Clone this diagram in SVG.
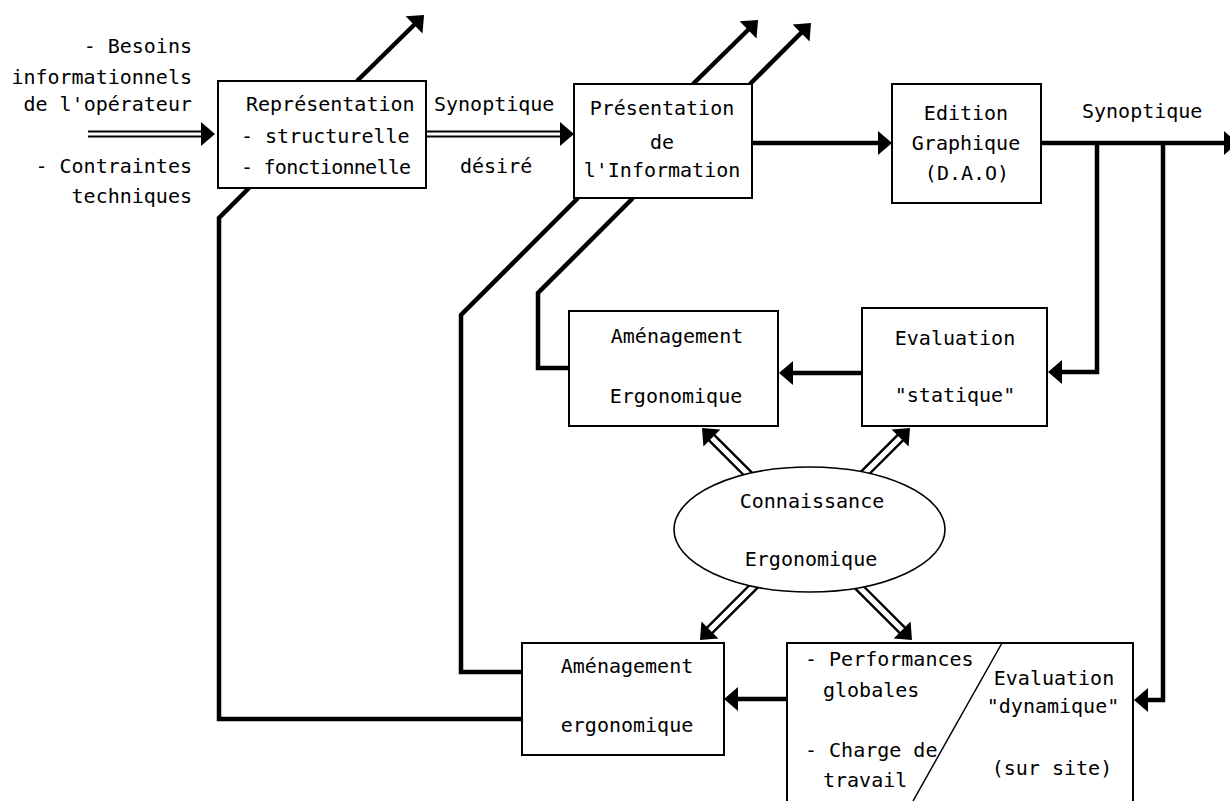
<svg xmlns="http://www.w3.org/2000/svg" xmlns:xlink="http://www.w3.org/1999/xlink" width="1230" height="801" viewBox="0 0 1230 801">
<style>
.t{font-family:"DejaVu Sans Mono","Liberation Mono",monospace;font-size:20px;letter-spacing:0px;fill:#000}
.m{text-anchor:middle}
.e{text-anchor:end}
.box{fill:#fff;stroke:#000;stroke-width:2}
.ln{fill:none;stroke:#000;stroke-width:4.5;stroke-linejoin:miter}
.arr{fill:none;stroke:#000;stroke-width:4.5;marker-end:url(#ah)}
.dbl{fill:none;stroke:#000;stroke-width:2.2}
.thin{fill:none;stroke:#000;stroke-width:1.5}
</style>
<defs>
<marker id="ah" viewBox="-16 -13 17 26" refX="-12" refY="0" markerWidth="17" markerHeight="26" markerUnits="userSpaceOnUse" orient="auto">
<path d="M0,0 L-14,-12 L-14,12 Z" fill="#000"/>
</marker>
<path id="head" d="M0,0 L-14,-12 L-14,12 Z" fill="#000"/>
<g id="hollow">
<path d="M-80,-3.8 H-12 M-80,3.8 H-12" fill="none" stroke="#000" stroke-width="2.4"/>
<use xlink:href="#head"/>
</g>
</defs>
<rect width="1230" height="801" fill="#fff"/>

<g id="connectors">
<path class="dbl" d="M88,131.5 H204 M88,136.5 H204"/>
<use xlink:href="#head" transform="translate(215,134)"/>
<path class="dbl" d="M427,131.5 H562 M427,136.5 H562"/>
<use xlink:href="#head" transform="translate(574,134)"/>
<path class="arr" d="M357,81 L415.5,23.5"/>
<path class="arr" d="M693,84 L749.5,28.5"/>
<path class="arr" d="M750,84 L802.5,31.5"/>
<path class="arr" d="M752,143 H880"/>
<path class="arr" d="M1041,143 H1226"/>
<path class="arr" d="M1097,143 V372 H1060"/>
<path class="arr" d="M1163,143 V700 H1146"/>
<path class="arr" d="M862,373 H791"/>
<path class="arr" d="M787,699 H736"/>
<path class="ln" d="M249,188 L219,218 V719 H522"/>
<path class="ln" d="M578,198 L461,315 V672 H522"/>
<path class="ln" d="M633,198 L538,293 V368 H569"/>
<use xlink:href="#hollow" transform="translate(702,428) rotate(225)"/>
<use xlink:href="#hollow" transform="translate(910,428) rotate(-45)"/>
<use xlink:href="#hollow" transform="translate(700,640) rotate(135)"/>
<use xlink:href="#hollow" transform="translate(912,640) rotate(45)"/>
</g>

<g id="inputs">
<text class="t e" x="192" y="53">- Besoins</text>
<text class="t e" x="192" y="84">informationnels</text>
<text class="t e" x="192" y="111">de l'opérateur</text>
<text class="t e" x="192" y="173">- Contraintes</text>
<text class="t e" x="192" y="203">techniques</text>
</g>

<g id="representation">
<rect class="box" x="218" y="81" width="208" height="107"/>
<text class="t" x="246" y="111">Représentation</text>
<text class="t" x="241" y="143">- structurelle</text>
<text class="t" x="241" y="174" textLength="170" lengthAdjust="spacing">- fonctionnelle</text>
</g>

<g id="label-synoptique-desire">
<text class="t" x="434" y="111">Synoptique</text>
<text class="t" x="460" y="173">désiré</text>
</g>

<g id="presentation">
<rect class="box" x="574" y="84" width="178" height="114"/>
<text class="t m" x="662" y="115">Présentation</text>
<text class="t m" x="662" y="149">de</text>
<text class="t m" x="662" y="177">l'Information</text>
</g>

<g id="edition">
<rect class="box" x="892" y="84" width="149" height="119"/>
<text class="t m" x="966" y="120">Edition</text>
<text class="t m" x="966" y="150">Graphique</text>
<text class="t m" x="967" y="180">(D.A.O)</text>
</g>

<g id="label-synoptique">
<text class="t" x="1082" y="118">Synoptique</text>
</g>

<g id="amenagement-1">
<rect class="box" x="569" y="311" width="209" height="115"/>
<text class="t m" x="677" y="343">Aménagement</text>
<text class="t m" x="676" y="403">Ergonomique</text>
</g>

<g id="evaluation-statique">
<rect class="box" x="862" y="308" width="185" height="118"/>
<text class="t m" x="955" y="345">Evaluation</text>
<text class="t m" x="955" y="402">"statique"</text>
</g>

<g id="connaissance">
<ellipse cx="809.5" cy="529.5" rx="135.5" ry="62.5" fill="#fff" stroke="#000" stroke-width="1.6"/>
<text class="t m" x="812" y="508">Connaissance</text>
<text class="t m" x="811" y="566">Ergonomique</text>
</g>

<g id="amenagement-2">
<rect class="box" x="522" y="643" width="202" height="112"/>
<text class="t m" x="627" y="673">Aménagement</text>
<text class="t m" x="627" y="732">ergonomique</text>
</g>

<g id="evaluation-dynamique">
<rect class="box" x="787" y="643" width="346" height="200"/>
<path class="thin" d="M1002,643 L913,801"/>
<text class="t" x="805" y="666">- Performances</text>
<text class="t" x="823" y="697">globales</text>
<text class="t" x="805" y="757">- Charge de</text>
<text class="t" x="823" y="787">travail</text>
<text class="t m" x="1054" y="685">Evaluation</text>
<text class="t m" x="1053" y="713">"dynamique"</text>
<text class="t m" x="1052" y="775">(sur site)</text>
</g>
</svg>
